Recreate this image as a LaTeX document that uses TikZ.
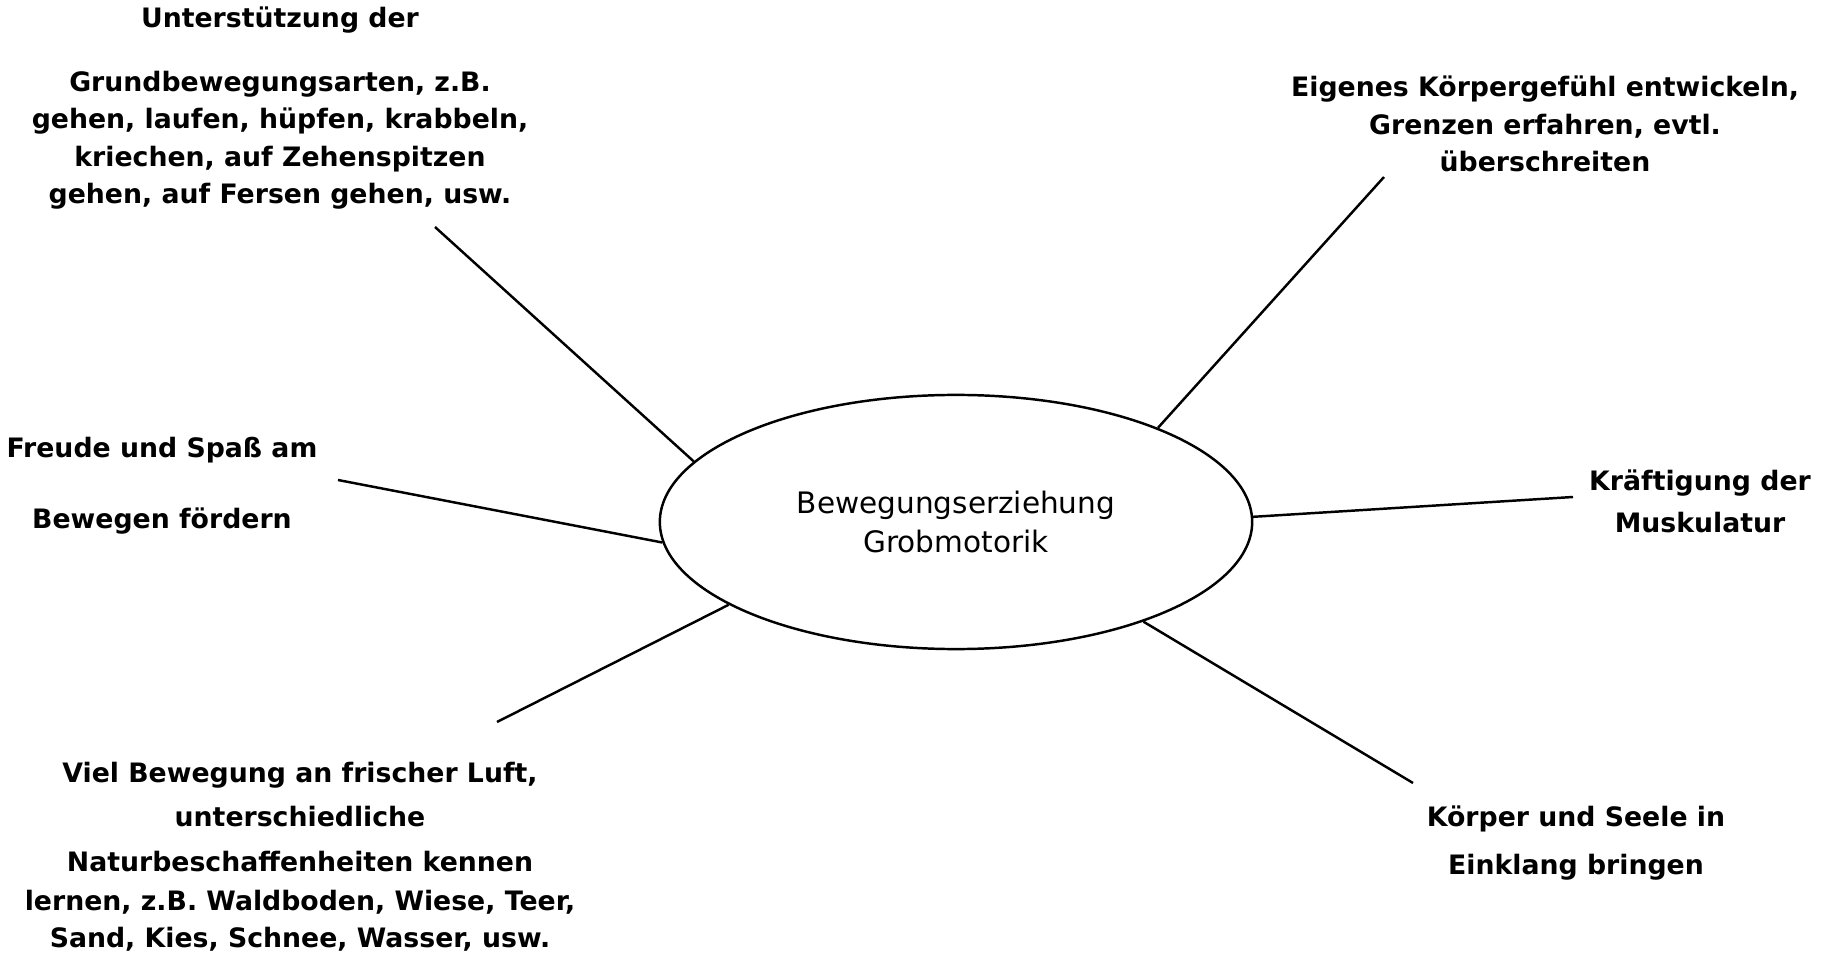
\documentclass[tikz,border=0pt]{standalone}
\usepackage{fontspec}
\setmainfont{DejaVu Sans}
\usetikzlibrary{shapes.geometric}

\begin{document}
\begin{tikzpicture}[
  x=0.01cm, y=-0.01cm,
  lbl/.style={align=center, inner sep=0pt,
              font=\fontsize{7.6pt}{10.6pt}\selectfont\bfseries},
  kern/.style={draw, ellipse, line width=0.7pt, inner sep=0pt,
               minimum width=5.92cm, minimum height=2.54cm, align=center,
               font=\fontsize{8.4pt}{10.9pt}\selectfont},
  ast/.style={line width=0.7pt},
]
  \useasboundingbox (0,0) rectangle (1827,967);

  \node[kern] (ell) at (956,522) {Bewegungserziehung\\Grobmotorik};

  \node[lbl] (grund) at (280,108)
        {Unterstützung der\\[0.27cm] Grundbewegungsarten, z.B.\\gehen, laufen, hüpfen, krabbeln,\\kriechen, auf Zehenspitzen\\gehen, auf Fersen gehen, usw.};
  \node[lbl] (gefuehl) at (1545,124)
        {Eigenes Körpergefühl entwickeln,\\Grenzen erfahren, evtl.\\überschreiten};
  \node[lbl] (freude) at (162,486) {Freude und Spaß am\\[0.34cm] Bewegen fördern};
  \node[lbl] (kraft) at (1700,501) {Kräftigung der\\[0.05cm] Muskulatur};
  \node[lbl] (luft) at (300,857)
        {Viel Bewegung an frischer Luft,\\[0.07cm] unterschiedliche\\[0.07cm] Naturbeschaffenheiten kennen\\[0.02cm] lernen, z.B. Waldboden, Wiese, Teer,\\Sand, Kies, Schnee, Wasser, usw.};
  \node[lbl] (seele) at (1576,843) {Körper und Seele in\\[0.1cm] Einklang bringen};

  % free ends of the rays
  \coordinate (e1) at (435,227);
  \coordinate (e2) at (1384,177);
  \coordinate (e3) at (338,480);
  \coordinate (e4) at (1573,497);
  \coordinate (e5) at (497,722);
  \coordinate (e6) at (1413,783);

  \draw[ast] (ell.167.5) -- (e1);
  \draw[ast] (ell.25.4)  -- (e2);
  \draw[ast] (ell.184.0) -- (e3);
  \draw[ast] (ell.1.7)   -- (e4);
  \draw[ast] (ell.200.9) -- (e5);
  \draw[ast] (ell.332.0) -- (e6);
\end{tikzpicture}
\end{document}
